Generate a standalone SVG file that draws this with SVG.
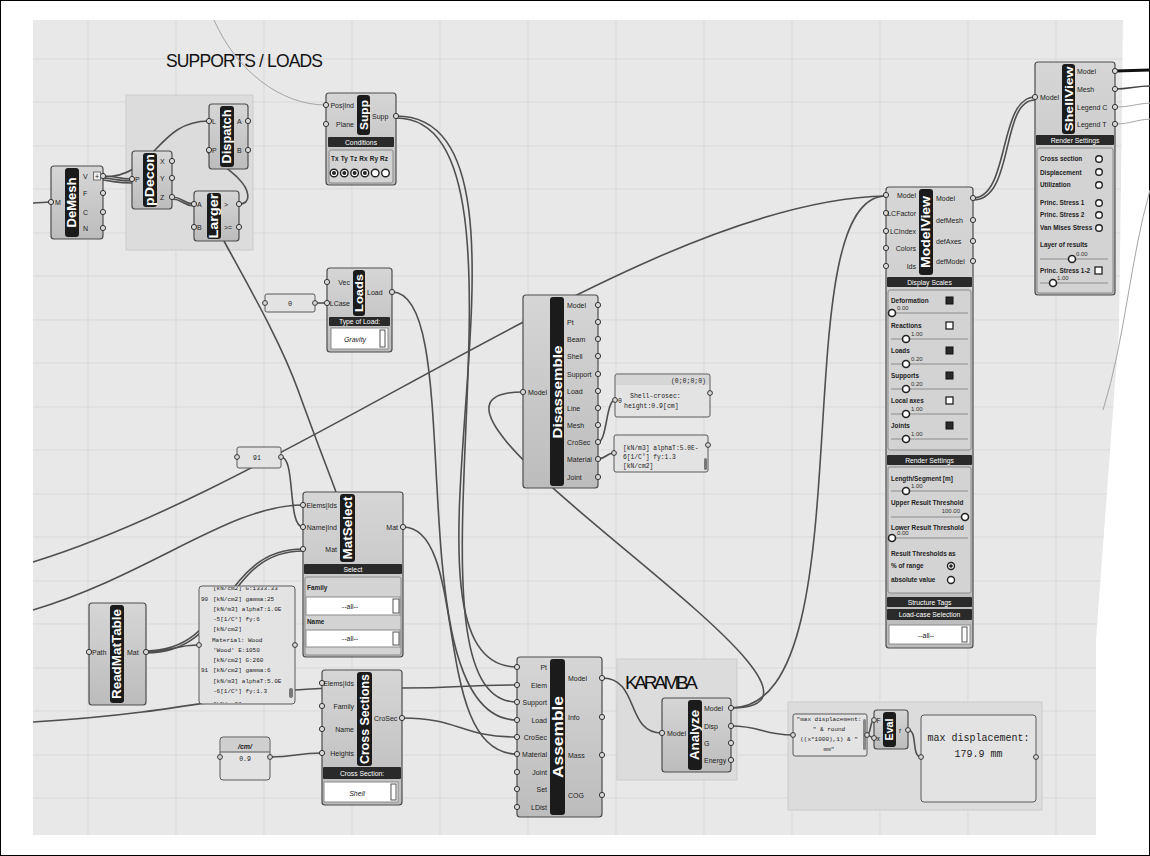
<svg xmlns="http://www.w3.org/2000/svg" width="1150" height="856" viewBox="0 0 1150 856">
<defs>
<linearGradient id="ng" x1="0" y1="0" x2="0" y2="1"><stop offset="0" stop-color="#d6d6d6"/><stop offset="1" stop-color="#bcbcbc"/></linearGradient>
<clipPath id="cv"><polygon points="33,20 1123,20 1119,330 1096,640 1096,835 33,835"/></clipPath>
<clipPath id="mp"><rect x="199" y="587" width="96" height="116" rx="3"/></clipPath>
<style>
.lb{font-family:"Liberation Sans",Arial,sans-serif;font-size:7px;fill:#222}
.le{text-anchor:end}
.bt{font-family:"Liberation Sans",Arial,sans-serif;font-weight:bold;fill:#fff;text-anchor:middle}
.node{fill:url(#ng);stroke:#4d4d4d;stroke-width:1.2}
.band{fill:#1b1b1b}
.pt{fill:#d9d9d9;stroke:#333;stroke-width:1}
.bar{fill:#2a2a2a}
.bart{font-family:"Liberation Sans",Arial,sans-serif;font-size:6.8px;fill:#fff;text-anchor:middle}
.sub{fill:#d3d3d3;stroke:#8a8a8a;stroke-width:1}
.dd{fill:#fff;stroke:#8a8a8a}
.btn{fill:#fff;stroke:#555}
.pl{font-family:"Liberation Sans",Arial,sans-serif;font-weight:bold;font-size:6.4px;fill:#222}
.val{font-family:"Liberation Sans",Arial,sans-serif;font-size:6px;fill:#333}
.sl{stroke:#8c8c8c;stroke-width:1}
.knob{fill:#fff;stroke:#222;stroke-width:1.6}
.rad{fill:#fff;stroke:#222;stroke-width:1.4}
.dot{fill:#222}
.cbw{fill:#fff;stroke:#222;stroke-width:1.3}
.cbd{fill:#2a2a2a;stroke:#111;stroke-width:1}
.panel{fill:#e3e3e3;stroke:#5a5a5a;stroke-width:1}
.mono{font-family:"Liberation Mono","Courier New",monospace;fill:#222}
.w{fill:none;stroke:#4f4f4f;stroke-width:1.6}
.wl{fill:none;stroke:#a5a5a5;stroke-width:1}
.grp{fill:#dcdcdc;stroke:#cbcbcb}
.grid line{stroke:#d9d9d9;stroke-width:1}
.ttl{font-family:"Liberation Sans",Arial,sans-serif;fill:#111}
</style>
</defs>
<rect x="0.5" y="0.5" width="1149" height="855" fill="#fff" stroke="#000"/>
<polygon points="33,20 1123,20 1119,330 1096,640 1096,835 33,835" fill="#e8e8e8"/>
<g class="grid" clip-path="url(#cv)">
<line x1="88" y1="20" x2="88" y2="835"/><line x1="176" y1="20" x2="176" y2="835"/><line x1="264" y1="20" x2="264" y2="835"/><line x1="352" y1="20" x2="352" y2="835"/><line x1="440" y1="20" x2="440" y2="835"/><line x1="528" y1="20" x2="528" y2="835"/><line x1="616" y1="20" x2="616" y2="835"/><line x1="704" y1="20" x2="704" y2="835"/><line x1="792" y1="20" x2="792" y2="835"/><line x1="880" y1="20" x2="880" y2="835"/><line x1="968" y1="20" x2="968" y2="835"/><line x1="1056" y1="20" x2="1056" y2="835"/>
<line x1="33" y1="59" x2="1123" y2="59"/><line x1="33" y1="102" x2="1123" y2="102"/><line x1="33" y1="146" x2="1123" y2="146"/><line x1="33" y1="189" x2="1123" y2="189"/><line x1="33" y1="233" x2="1123" y2="233"/><line x1="33" y1="276" x2="1123" y2="276"/><line x1="33" y1="320" x2="1123" y2="320"/><line x1="33" y1="363" x2="1123" y2="363"/><line x1="33" y1="407" x2="1123" y2="407"/><line x1="33" y1="450" x2="1123" y2="450"/><line x1="33" y1="494" x2="1123" y2="494"/><line x1="33" y1="537" x2="1123" y2="537"/><line x1="33" y1="581" x2="1123" y2="581"/><line x1="33" y1="624" x2="1123" y2="624"/><line x1="33" y1="668" x2="1123" y2="668"/><line x1="33" y1="711" x2="1123" y2="711"/><line x1="33" y1="755" x2="1123" y2="755"/><line x1="33" y1="798" x2="1123" y2="798"/>
</g>

<g id="groups">
<rect class="grp" x="126" y="95" width="127" height="155"/>
<rect class="grp" x="617" y="659" width="120" height="121"/>
<rect class="grp" x="788" y="702" width="254" height="108"/>
<text class="ttl" x="166" y="67" font-size="17.5" textLength="157">SUPPORTS / LOADS</text>
<text class="ttl" x="625" y="689" font-size="19" textLength="73">KARAMBA</text>
</g>

<g id="connectors">
<path class="w" d="M33,203 L51,202"/>
<path class="w" d="M103,176 C118,176 117,179 132,179"/>
<path class="w" d="M103,178 C118,179 117,181 132,181"/>
<path class="w" d="M103,180 C118,182 117,183 132,183"/>
<path class="w" d="M103,177 C156,177 156,121 209,121"/>
<path class="w" d="M172,197 C183,197 183,204 194,204"/>
<path class="w" d="M172,199 C183,199 183,206 194,206"/>
<path class="w" d="M239,204 C252,204 250,190 238,178 C226,166 200,150 209,150"/>
<path class="w" d="M224,241 C245,280 280,340 298,390 S328,470 336,492"/>
<path class="wl" d="M214,20 C236,70 280,105 326,105"/>
<path class="w" d="M396,116 C570,116 370,667 517,667"/>
<path class="w" d="M396,118 C555,118 385,702 517,702"/>
<path class="w" d="M392,292 C470,292 395,720 517,720"/>
<path class="w" d="M315,303 L327,303"/>
<path class="w" d="M281,457 C296,457 287,527 303,527"/>
<path class="w" d="M33,562 C300,480 650,200 886,196"/>
<path class="w" d="M33,610 C150,575 230,505 303,505"/>
<path class="w" d="M146,652 C172,652 173,645 199,645"/>
<path class="w" d="M146,651 C230,651 220,549 303,549"/>
<path class="w" d="M146,653 C232,653 222,551 303,551"/>
<path class="w" d="M33,722 C200,712 250,688 340,688 L402,688 C460,688 460,685 517,685"/>
<path class="w" d="M270,757 C296,757 296,753 322,753"/>
<path class="w" d="M402,718 C460,718 460,737 517,737"/>
<path class="w" d="M403,527 C470,527 430,754 517,754"/>
<path class="w" d="M602,678 C640,678 625,733 662,733"/>
<path class="w" d="M731,708 C900,708 350,392 523,392"/>
<path class="w" d="M731,708 C870,708 780,196 886,196"/>
<path class="w" d="M598,442 C607,442 606,400 615,400"/>
<path class="w" d="M598,459 C606,459 606,453 614,453"/>
<path class="w" d="M973,198 C1010,198 998,97 1035,97"/>
<path class="w" d="M973,200 C1015,200 1000,100 1035,100"/>
<path fill="none" stroke="#111" stroke-width="3" d="M1115,71 L1150,70"/>
<path fill="none" stroke="#444" stroke-width="1.5" d="M1115,89 C1130,89 1135,86 1150,86"/>
<path class="wl" d="M1115,107 C1130,107 1135,104 1150,103"/>
<path class="wl" d="M1115,124 C1130,124 1135,120 1150,119"/>
<path class="wl" d="M1150,190 C1130,260 1125,340 1103,410"/>
<path class="w" d="M731,726 C762,726 762,735 793,735"/>
<path class="w" d="M867,735 C871,735 870,720 874,720"/>
<path class="w" d="M867,735 C871,735 870,738 874,738"/>
<path class="w" d="M908,730 C918,730 911,757 921,757"/>
</g>

<g id="demesh">
<rect class="node" x="51" y="166" width="52" height="73" rx="3"/>
<rect class="band" x="65" y="168" width="14" height="69" rx="3"/>
<text class="bt" font-size="12" textLength="50" lengthAdjust="spacingAndGlyphs" transform="translate(72,202.5) rotate(-90)" dy="4.2">DeMesh</text>
<circle class="pt" cx="51" cy="202" r="2.6"/>
<text class="lb" x="55" y="204.5">M</text>
<circle class="pt" cx="103" cy="176" r="2.6"/><circle class="pt" cx="103" cy="193" r="2.6"/><circle class="pt" cx="103" cy="212" r="2.6"/><circle class="pt" cx="103" cy="228" r="2.6"/>
<text class="lb" x="83" y="178.5">V</text><text class="lb" x="83" y="195.5">F</text><text class="lb" x="83" y="214.5">C</text><text class="lb" x="83" y="230.5">N</text>
<rect x="93.5" y="172" width="7" height="8" fill="#eee" stroke="#555" stroke-width="0.8"/>
<text class="lb" x="97" y="178.5" text-anchor="middle" font-size="7">+</text>
</g>

<g id="pdecon">
<rect class="node" x="132" y="151" width="40" height="58" rx="3"/>
<rect class="band" x="143" y="153" width="14" height="54" rx="3"/>
<text class="bt" font-size="12" textLength="52" lengthAdjust="spacingAndGlyphs" transform="translate(150,180) rotate(-90)" dy="4.2">pDecon</text>
<circle class="pt" cx="132" cy="179" r="2.6"/>
<text class="lb" x="135" y="181.5">P</text>
<circle class="pt" cx="172" cy="161" r="2.6"/><circle class="pt" cx="172" cy="178" r="2.6"/><circle class="pt" cx="172" cy="197" r="2.6"/>
<text class="lb" x="160" y="163.5">X</text><text class="lb" x="160" y="180.5">Y</text><text class="lb" x="160" y="199.5">Z</text>
</g>

<g id="dispatch">
<rect class="node" x="209" y="104" width="39" height="65" rx="3"/>
<rect class="band" x="220" y="106" width="14" height="61" rx="3"/>
<text class="bt" font-size="12" textLength="54" lengthAdjust="spacingAndGlyphs" transform="translate(227,136.5) rotate(-90)" dy="4.2">Dispatch</text>
<circle class="pt" cx="209" cy="121" r="2.6"/><circle class="pt" cx="209" cy="150" r="2.6"/>
<text class="lb" x="212" y="123.5">L</text><text class="lb" x="212" y="152.5">P</text>
<circle class="pt" cx="248" cy="121" r="2.6"/><circle class="pt" cx="248" cy="150" r="2.6"/>
<text class="lb" x="237" y="123.5">A</text><text class="lb" x="237" y="152.5">B</text>
</g>

<g id="larger">
<rect class="node" x="194" y="191" width="45" height="50" rx="3"/>
<rect class="band" x="207" y="193" width="14" height="46" rx="3"/>
<text class="bt" font-size="12" textLength="45" lengthAdjust="spacingAndGlyphs" transform="translate(214,216) rotate(-90)" dy="4.2">Larger</text>
<circle class="pt" cx="194" cy="204" r="2.6"/><circle class="pt" cx="194" cy="227" r="2.6"/>
<text class="lb" x="197" y="206.5">A</text><text class="lb" x="197" y="229.5">B</text>
<circle class="pt" cx="239" cy="204" r="2.6"/><circle class="pt" cx="239" cy="227" r="2.6"/>
<text class="lb" x="224" y="206.5">&gt;</text><text class="lb" x="224" y="229.5">&gt;=</text>
</g>

<g id="supp">
<rect class="node" x="326" y="93" width="70" height="92" rx="3"/>
<rect class="band" x="357" y="95" width="13" height="40" rx="3"/>
<text class="bt" font-size="11.5" textLength="30" lengthAdjust="spacingAndGlyphs" transform="translate(363.5,115) rotate(-90)" dy="4">Supp</text>
<circle class="pt" cx="326" cy="105" r="2.6"/><circle class="pt" cx="326" cy="124" r="2.6"/>
<text class="lb le" x="354" y="107.5">Pos|Ind</text><text class="lb le" x="354" y="126.5">Plane</text>
<circle class="pt" cx="396" cy="116" r="2.6"/>
<text class="lb" x="372" y="118.5">Supp</text>
<rect class="bar" x="328" y="137" width="66" height="10" rx="1"/>
<text class="bart" x="361" y="144.5">Conditions</text>
<rect class="sub" x="329" y="150" width="64" height="33" rx="2"/>
<text class="pl" x="331" y="161" textLength="57">Tx Ty Tz Rx Ry Rz</text>
<circle class="rad" cx="334" cy="173" r="3.8"/><circle class="dot" cx="334" cy="173" r="2"/>
<circle class="rad" cx="344.3" cy="173" r="3.8"/><circle class="dot" cx="344.3" cy="173" r="2"/>
<circle class="rad" cx="354.6" cy="173" r="3.8"/><circle class="dot" cx="354.6" cy="173" r="2"/>
<circle class="rad" cx="364.9" cy="173" r="3.8"/><circle class="dot" cx="364.9" cy="173" r="2"/>
<circle class="rad" cx="375.2" cy="173" r="3.8"/>
<circle class="rad" cx="385.5" cy="173" r="3.8"/>
</g>

<g id="panel-zero">
<rect class="panel" x="265" y="294" width="50" height="18" rx="2"/>
<text class="mono" x="290" y="306" font-size="7" text-anchor="middle">0</text>
<circle class="pt" cx="265" cy="303" r="2.4"/><circle class="pt" cx="315" cy="303" r="2.4"/>
</g>

<g id="loads">
<rect class="node" x="327" y="268" width="65" height="84" rx="3"/>
<rect class="band" x="353" y="270" width="12" height="46" rx="3"/>
<text class="bt" font-size="11" textLength="38" lengthAdjust="spacingAndGlyphs" transform="translate(359,293) rotate(-90)" dy="3.9">Loads</text>
<circle class="pt" cx="327" cy="282" r="2.6"/><circle class="pt" cx="327" cy="303" r="2.6"/>
<text class="lb le" x="350" y="284.5">Vec</text><text class="lb le" x="350" y="305.5">LCase</text>
<circle class="pt" cx="392" cy="292" r="2.6"/>
<text class="lb" x="367" y="294.5">Load</text>
<rect class="bar" x="329" y="317" width="61" height="9" rx="1"/>
<text class="bart" x="359.5" y="324">Type of Load:</text>
<rect class="dd" x="331" y="328" width="57" height="21"/>
<text class="lb" x="355" y="342" font-size="8" font-style="italic" text-anchor="middle">Gravity</text>
<rect class="btn" x="380" y="330" width="5" height="17"/>
</g>

<g id="panel-91">
<rect class="panel" x="237" y="447" width="44" height="21" rx="2"/>
<text class="mono" x="257" y="460" font-size="6.5" text-anchor="middle">91</text>
<circle class="pt" cx="237" cy="457" r="2.4"/><circle class="pt" cx="281" cy="457" r="2.4"/>
</g>

<g id="disassemble">
<rect class="node" x="523" y="295" width="75" height="193" rx="3"/>
<rect class="band" x="550" y="297" width="14" height="189" rx="3"/>
<text class="bt" font-size="13" textLength="93" lengthAdjust="spacingAndGlyphs" transform="translate(557,392) rotate(-90)" dy="4.6">Disassemble</text>
<circle class="pt" cx="523" cy="392" r="2.6"/>
<text class="lb le" x="547" y="394.5" font-size="7.5">Model</text>
<g class="lb" font-size="7.5">
<text x="567" y="307.5">Model</text><text x="567" y="324.5">Pt</text><text x="567" y="341.5">Beam</text><text x="567" y="358.5">Shell</text><text x="567" y="376.5">Support</text><text x="567" y="393.5">Load</text><text x="567" y="410.5">Line</text><text x="567" y="427.5">Mesh</text><text x="567" y="444.5">CroSec</text><text x="567" y="461.5">Material</text><text x="567" y="479.5">Joint</text>
</g>
<circle class="pt" cx="598" cy="305" r="2.6"/><circle class="pt" cx="598" cy="322" r="2.6"/><circle class="pt" cx="598" cy="339" r="2.6"/><circle class="pt" cx="598" cy="356" r="2.6"/><circle class="pt" cx="598" cy="374" r="2.6"/><circle class="pt" cx="598" cy="391" r="2.6"/><circle class="pt" cx="598" cy="408" r="2.6"/><circle class="pt" cx="598" cy="425" r="2.6"/><circle class="pt" cx="598" cy="442" r="2.6"/><circle class="pt" cx="598" cy="459" r="2.6"/><circle class="pt" cx="598" cy="477" r="2.6"/>
</g>

<g id="panel-crosec">
<rect class="panel" x="615" y="374" width="95" height="43" rx="2"/>
<rect x="616" y="375" width="93" height="10" fill="#d6d6d6"/>
<text class="mono" x="706" y="383" font-size="6.5" text-anchor="end">(0;0;0;0)</text>
<text class="mono" x="618" y="403" font-size="6.5">0</text>
<text class="mono" x="630" y="397.5" font-size="6.5">Shell-crosec:</text>
<text class="mono" x="624" y="407.5" font-size="6.5">height:0.9[cm]</text>
<circle class="pt" cx="615" cy="400" r="2.4"/><circle class="pt" cx="710" cy="393" r="2.4"/>
</g>

<g id="panel-material-out">
<rect class="panel" x="614" y="435" width="94" height="37" rx="2"/>
<text class="mono" x="623" y="450" font-size="6.3">[kN/m3] alphaT:5.0E-</text>
<text class="mono" x="623" y="459" font-size="6.3">6[1/C°] fy:1.3</text>
<text class="mono" x="623" y="468" font-size="6.3">[kN/cm2]</text>
<rect x="704" y="458" width="3" height="12" rx="1.5" fill="#777"/>
<circle class="pt" cx="614" cy="453" r="2.4"/><circle class="pt" cx="708" cy="445" r="2.4"/>
</g>

<g id="modelview">
<rect class="node" x="886" y="187" width="87" height="461" rx="3"/>
<rect class="band" x="919" y="189" width="14" height="86" rx="3"/>
<text class="bt" font-size="12" textLength="72" lengthAdjust="spacingAndGlyphs" transform="translate(926,232) rotate(-90)" dy="4.2">ModelView</text>
<circle class="pt" cx="886" cy="195" r="2.6"/><circle class="pt" cx="886" cy="213" r="2.6"/><circle class="pt" cx="886" cy="231" r="2.6"/><circle class="pt" cx="886" cy="248" r="2.6"/><circle class="pt" cx="886" cy="266" r="2.6"/>
<g class="lb le" font-size="6.6"><text x="916" y="197.5">Model</text><text x="916" y="215.5">LCFactor</text><text x="916" y="233.5">LCIndex</text><text x="916" y="250.5">Colors</text><text x="916" y="268.5">Ids</text></g>
<circle class="pt" cx="973" cy="198" r="2.6"/><circle class="pt" cx="973" cy="220" r="2.6"/><circle class="pt" cx="973" cy="241" r="2.6"/><circle class="pt" cx="973" cy="261" r="2.6"/>
<g class="lb" font-size="6.6"><text x="936" y="200.5">Model</text><text x="936" y="222.5">defMesh</text><text x="936" y="243.5">defAxes</text><text x="936" y="263.5">defModel</text></g>
<rect class="bar" x="887" y="277" width="85" height="10" rx="1"/>
<text class="bart" x="929.5" y="284.5">Display Scales</text>
<rect class="sub" x="888" y="290" width="83" height="160" rx="2"/>
<text class="pl" x="891" y="303">Deformation</text><rect class="cbd" x="946" y="297" width="7" height="7"/>
<line class="sl" x1="891" y1="313" x2="968" y2="313"/><circle class="knob" cx="892" cy="313" r="3.5"/><text class="val" x="897" y="310">0.00</text>
<text class="pl" x="891" y="328">Reactions</text><rect class="cbw" x="946" y="322" width="7" height="7"/>
<line class="sl" x1="891" y1="339" x2="968" y2="339"/><circle class="knob" cx="906" cy="339" r="3.5"/><text class="val" x="911" y="336">1.00</text>
<text class="pl" x="891" y="353">Loads</text><rect class="cbd" x="946" y="347" width="7" height="7"/>
<line class="sl" x1="891" y1="364" x2="968" y2="364"/><circle class="knob" cx="906" cy="364" r="3.5"/><text class="val" x="911" y="361">0.20</text>
<text class="pl" x="891" y="378">Supports</text><rect class="cbd" x="946" y="372" width="7" height="7"/>
<line class="sl" x1="891" y1="389" x2="968" y2="389"/><circle class="knob" cx="906" cy="389" r="3.5"/><text class="val" x="911" y="386">0.20</text>
<text class="pl" x="891" y="403">Local axes</text><rect class="cbw" x="946" y="397" width="7" height="7"/>
<line class="sl" x1="891" y1="414" x2="968" y2="414"/><circle class="knob" cx="906" cy="414" r="3.5"/><text class="val" x="911" y="411">1.00</text>
<text class="pl" x="891" y="428">Joints</text><rect class="cbd" x="946" y="422" width="7" height="7"/>
<line class="sl" x1="891" y1="439" x2="968" y2="439"/><circle class="knob" cx="906" cy="439" r="3.5"/><text class="val" x="911" y="436">1.00</text>
<rect class="bar" x="887" y="455" width="85" height="10" rx="1"/>
<text class="bart" x="929.5" y="462.5">Render Settings</text>
<rect class="sub" x="888" y="467" width="83" height="126" rx="2"/>
<text class="pl" x="891" y="481">Length/Segment [m]</text>
<line class="sl" x1="891" y1="491" x2="968" y2="491"/><circle class="knob" cx="906" cy="491" r="3.5"/><text class="val" x="911" y="488">1.00</text>
<text class="pl" x="891" y="505">Upper Result Threshold</text>
<line class="sl" x1="891" y1="517" x2="968" y2="517"/><text class="val" x="960" y="513" text-anchor="end">100.00</text><circle class="knob" cx="965" cy="517" r="3.5"/>
<text class="pl" x="891" y="530">Lower Result Threshold</text>
<line class="sl" x1="891" y1="538" x2="968" y2="538"/><circle class="knob" cx="892" cy="538" r="3.5"/><text class="val" x="897" y="535">0.00</text>
<text class="pl" x="891" y="556">Result Thresholds as</text>
<text class="pl" x="891" y="568">% of range</text><circle class="rad" cx="951" cy="566" r="3.5"/><circle class="dot" cx="951" cy="566" r="1.8"/>
<text class="pl" x="891" y="582">absolute value</text><circle class="rad" cx="951" cy="580" r="3.5"/>
<rect class="bar" x="887" y="597" width="85" height="10" rx="1"/>
<text class="bart" x="929.5" y="604.5">Structure Tags</text>
<rect class="bar" x="887" y="609" width="85" height="11" rx="1"/>
<text class="bart" x="929.5" y="617">Load-case Selection</text>
<rect class="dd" x="889" y="625" width="81" height="19"/>
<text class="lb" x="926" y="637.5" font-size="6.5" text-anchor="middle">--all--</text>
<rect class="btn" x="962" y="627" width="5" height="15"/>
</g>

<g id="shellview">
<rect class="node" x="1035" y="62" width="80" height="233" rx="3"/>
<rect class="band" x="1062" y="64" width="13" height="70" rx="3"/>
<text class="bt" font-size="11.5" textLength="65" lengthAdjust="spacingAndGlyphs" transform="translate(1068.5,99) rotate(-90)" dy="4">ShellView</text>
<circle class="pt" cx="1035" cy="97" r="2.6"/>
<text class="lb le" x="1059" y="99.5">Model</text>
<circle class="pt" cx="1115" cy="71" r="2.6"/><circle class="pt" cx="1115" cy="89" r="2.6"/><circle class="pt" cx="1115" cy="107" r="2.6"/><circle class="pt" cx="1115" cy="124" r="2.6"/>
<g class="lb" font-size="6.8"><text x="1077" y="73.5">Model</text><text x="1077" y="91.5">Mesh</text><text x="1077" y="109.5">Legend C</text><text x="1077" y="126.5">Legend T</text></g>
<rect class="bar" x="1036" y="135" width="78" height="10" rx="1"/>
<text class="bart" x="1075" y="142.5">Render Settings</text>
<rect class="sub" x="1037" y="148" width="76" height="145" rx="2"/>
<text class="pl" x="1040" y="161">Cross section</text><circle class="rad" cx="1099" cy="159" r="3.3"/>
<text class="pl" x="1040" y="175">Displacement</text><circle class="rad" cx="1099" cy="172" r="3.3"/>
<text class="pl" x="1040" y="187">Utilization</text><circle class="rad" cx="1099" cy="185" r="3.3"/>
<text class="pl" x="1040" y="205">Princ. Stress 1</text><circle class="rad" cx="1099" cy="203" r="3.3"/>
<text class="pl" x="1040" y="217">Princ. Stress 2</text><circle class="rad" cx="1099" cy="215" r="3.3"/>
<text class="pl" x="1040" y="230">Van Mises Stress</text><circle class="rad" cx="1099" cy="228" r="3.3"/>
<text class="pl" x="1040" y="247">Layer of results</text>
<line class="sl" x1="1040" y1="259" x2="1108" y2="259"/><circle class="knob" cx="1072" cy="259" r="3.5"/><text class="val" x="1076" y="256">0.00</text>
<text class="pl" x="1040" y="273">Princ. Stress 1-2</text><rect class="cbw" x="1095" y="267" width="7" height="7"/>
<line class="sl" x1="1040" y1="283" x2="1108" y2="283"/><circle class="knob" cx="1053" cy="283" r="3.5"/><text class="val" x="1057" y="280">1.00</text>
</g>

<g id="matselect">
<rect class="node" x="303" y="492" width="100" height="165" rx="3"/>
<rect class="band" x="340" y="494" width="15" height="68" rx="3"/>
<text class="bt" font-size="12.5" textLength="63" lengthAdjust="spacingAndGlyphs" transform="translate(347.5,528) rotate(-90)" dy="4.4">MatSelect</text>
<circle class="pt" cx="303" cy="505" r="2.6"/><circle class="pt" cx="303" cy="527" r="2.6"/><circle class="pt" cx="303" cy="549" r="2.6"/>
<text class="lb le" x="337" y="507.5">Elems|Ids</text><text class="lb le" x="337" y="529.5">Name|Ind</text><text class="lb le" x="337" y="551.5">Mat</text>
<circle class="pt" cx="403" cy="527" r="2.6"/>
<text class="lb le" x="398" y="529.5">Mat</text>
<rect class="bar" x="304" y="564" width="98" height="10" rx="1"/>
<text class="bart" x="353" y="571.5">Select</text>
<rect class="sub" x="305" y="577" width="96" height="78" rx="2"/>
<text class="pl" x="307" y="590">Family</text>
<rect class="dd" x="306" y="597" width="94" height="18"/>
<text class="lb" x="350" y="608.5" font-size="6.5" text-anchor="middle">--all--</text>
<rect class="btn" x="393" y="599" width="6" height="14"/>
<text class="pl" x="307" y="624">Name</text>
<rect class="dd" x="306" y="630" width="94" height="17"/>
<text class="lb" x="350" y="641" font-size="6.5" text-anchor="middle">--all--</text>
<rect class="btn" x="393" y="632" width="6" height="13"/>
</g>

<g id="readmattable">
<rect class="node" x="89" y="603" width="57" height="102" rx="3"/>
<rect class="band" x="110" y="605" width="14" height="98" rx="3"/>
<text class="bt" font-size="12.5" textLength="90" lengthAdjust="spacingAndGlyphs" transform="translate(117,654) rotate(-90)" dy="4.4">ReadMatTable</text>
<circle class="pt" cx="89" cy="652" r="2.6"/>
<text class="lb" x="92" y="654.5">Path</text>
<circle class="pt" cx="146" cy="652" r="2.6"/>
<text class="lb" x="127" y="654.5">Mat</text>
</g>

<g id="panel-materials">
<rect class="panel" x="199" y="586" width="96" height="118" rx="3"/>
<g clip-path="url(#mp)" class="mono" font-size="6">
<text x="213" y="590">[kN/cm2] G:1333.33</text>
<text x="201" y="601">90</text><text x="213" y="601">[kN/cm2] gamma:25</text>
<text x="213" y="611">[kN/m3] alphaT:1.0E</text>
<text x="213" y="621">-5[1/C°] fy:6</text>
<text x="213" y="631">[kN/cm2]</text>
<text x="212" y="642">Material: Wood</text>
<text x="213" y="652">'Wood' E:1050</text>
<text x="213" y="662">[kN/cm2] G:260</text>
<text x="201" y="672">91</text><text x="213" y="672">[kN/cm2] gamma:6</text>
<text x="213" y="683">[kN/m3] alphaT:5.0E</text>
<text x="213" y="693">-6[1/C°] fy:1.3</text>
<text x="213" y="706">[kN/cm2] ...</text>
</g>
<rect x="289" y="688" width="4" height="10" rx="2" fill="#777"/>
<circle class="pt" cx="199" cy="645" r="2.4"/><circle class="pt" cx="295" cy="645" r="2.4"/>
</g>

<g id="crosssections">
<rect class="node" x="322" y="670" width="80" height="135" rx="3"/>
<rect class="band" x="357" y="672" width="15" height="94" rx="3"/>
<text class="bt" font-size="12" textLength="90" lengthAdjust="spacingAndGlyphs" transform="translate(364.5,719) rotate(-90)" dy="4.2">Cross Sections</text>
<circle class="pt" cx="322" cy="683" r="2.6"/><circle class="pt" cx="322" cy="706" r="2.6"/><circle class="pt" cx="322" cy="729" r="2.6"/><circle class="pt" cx="322" cy="753" r="2.6"/>
<text class="lb le" x="354" y="685.5">Elems|Ids</text><text class="lb le" x="354" y="708.5">Family</text><text class="lb le" x="354" y="731.5">Name</text><text class="lb le" x="354" y="755.5">Heights</text>
<circle class="pt" cx="402" cy="718" r="2.6"/>
<text class="lb" x="374" y="720.5">CroSec</text>
<rect class="bar" x="323" y="767" width="78" height="12" rx="1"/>
<text class="bart" x="362" y="775.5">Cross Section:</text>
<rect class="dd" x="324" y="782" width="74" height="20"/>
<text class="lb" x="357" y="795.5" font-size="8" font-style="italic" text-anchor="middle">Shell</text>
<rect class="btn" x="391" y="784" width="5" height="16"/>
</g>

<g id="number-cm">
<rect class="panel" x="220" y="737" width="50" height="43" rx="3"/>
<rect x="221" y="738" width="48" height="14" fill="#cfcfcf"/>
<line x1="220" y1="752" x2="270" y2="752" stroke="#5a5a5a"/>
<text class="lb" x="245" y="748.5" font-size="9" font-weight="bold" font-style="italic" text-anchor="middle">/cm/</text>
<text class="mono" x="245" y="761" font-size="6.5" text-anchor="middle">0.9</text>
<circle class="pt" cx="220" cy="757" r="2.4"/><circle class="pt" cx="270" cy="757" r="2.4"/>
</g>

<g id="assemble">
<rect class="node" x="517" y="657" width="85" height="160" rx="3"/>
<rect class="band" x="550" y="659" width="15" height="156" rx="3"/>
<text class="bt" font-size="14" textLength="82" lengthAdjust="spacingAndGlyphs" transform="translate(557.5,737) rotate(-90)" dy="5">Assemble</text>
<circle class="pt" cx="517" cy="667" r="2.6"/><circle class="pt" cx="517" cy="685" r="2.6"/><circle class="pt" cx="517" cy="702" r="2.6"/><circle class="pt" cx="517" cy="720" r="2.6"/><circle class="pt" cx="517" cy="737" r="2.6"/><circle class="pt" cx="517" cy="754" r="2.6"/><circle class="pt" cx="517" cy="772" r="2.6"/><circle class="pt" cx="517" cy="789" r="2.6"/><circle class="pt" cx="517" cy="807" r="2.6"/>
<g class="lb le"><text x="547" y="669.5">Pt</text><text x="547" y="687.5">Elem</text><text x="547" y="704.5">Support</text><text x="547" y="722.5">Load</text><text x="547" y="739.5">CroSec</text><text x="547" y="756.5">Material</text><text x="547" y="774.5">Joint</text><text x="547" y="791.5">Set</text><text x="547" y="809.5">LDist</text></g>
<circle class="pt" cx="602" cy="678" r="2.6"/><circle class="pt" cx="602" cy="717" r="2.6"/><circle class="pt" cx="602" cy="755" r="2.6"/><circle class="pt" cx="602" cy="795" r="2.6"/>
<g class="lb"><text x="568" y="680.5">Model</text><text x="568" y="719.5">Info</text><text x="568" y="757.5">Mass</text><text x="568" y="797.5">COG</text></g>
</g>

<g id="analyze">
<rect class="node" x="662" y="698" width="69" height="74" rx="3"/>
<rect class="band" x="688" y="700" width="14" height="70" rx="3"/>
<text class="bt" font-size="12" textLength="50" lengthAdjust="spacingAndGlyphs" transform="translate(695,735) rotate(-90)" dy="4.2">Analyze</text>
<circle class="pt" cx="662" cy="733" r="2.6"/>
<text class="lb le" x="686" y="735.5">Model</text>
<circle class="pt" cx="731" cy="708" r="2.6"/><circle class="pt" cx="731" cy="726" r="2.6"/><circle class="pt" cx="731" cy="743" r="2.6"/><circle class="pt" cx="731" cy="760" r="2.6"/>
<g class="lb"><text x="704" y="710.5">Model</text><text x="704" y="728.5">Disp</text><text x="704" y="745.5">G</text><text x="704" y="762.5">Energy</text></g>
</g>

<g id="panel-formula">
<rect class="panel" x="793" y="714" width="74" height="42" rx="2"/>
<g class="mono" font-size="6" text-anchor="middle">
<text x="829" y="721">"max displacement:</text>
<text x="829" y="731">" &amp; round</text>
<text x="829" y="741">((x*1000),1) &amp; "</text>
<text x="829" y="751">mm"</text>
</g>
<rect x="863" y="719" width="3" height="31" rx="1.5" fill="#888"/>
<circle class="pt" cx="793" cy="735" r="2.4"/><circle class="pt" cx="867" cy="735" r="2.4"/>
</g>

<g id="eval">
<rect class="node" x="874" y="710" width="34" height="39" rx="3"/>
<rect class="band" x="883" y="712" width="13" height="35" rx="3"/>
<text class="bt" font-size="10" textLength="22" lengthAdjust="spacingAndGlyphs" transform="translate(889.5,729.5) rotate(-90)" dy="3.5">Eval</text>
<circle class="pt" cx="874" cy="720" r="2.4"/><circle class="pt" cx="874" cy="738" r="2.4"/>
<text class="lb" x="876.5" y="722.5" font-size="6.5">F</text><text class="lb" x="876.5" y="740.5" font-size="6.5">x</text>
<circle class="pt" cx="908" cy="730" r="2.4"/>
<text class="lb" x="899" y="732.5" font-size="6.5">r</text>
</g>

<g id="panel-result">
<rect class="panel" x="921" y="715" width="115" height="87" rx="3"/>
<text class="mono" x="978.5" y="741" font-size="10" text-anchor="middle">max displacement:</text>
<text class="mono" x="978.5" y="757" font-size="10" text-anchor="middle">179.9 mm</text>
<circle class="pt" cx="921" cy="757" r="2.4"/><circle class="pt" cx="1036" cy="757" r="2.4"/>
</g>
</svg>
